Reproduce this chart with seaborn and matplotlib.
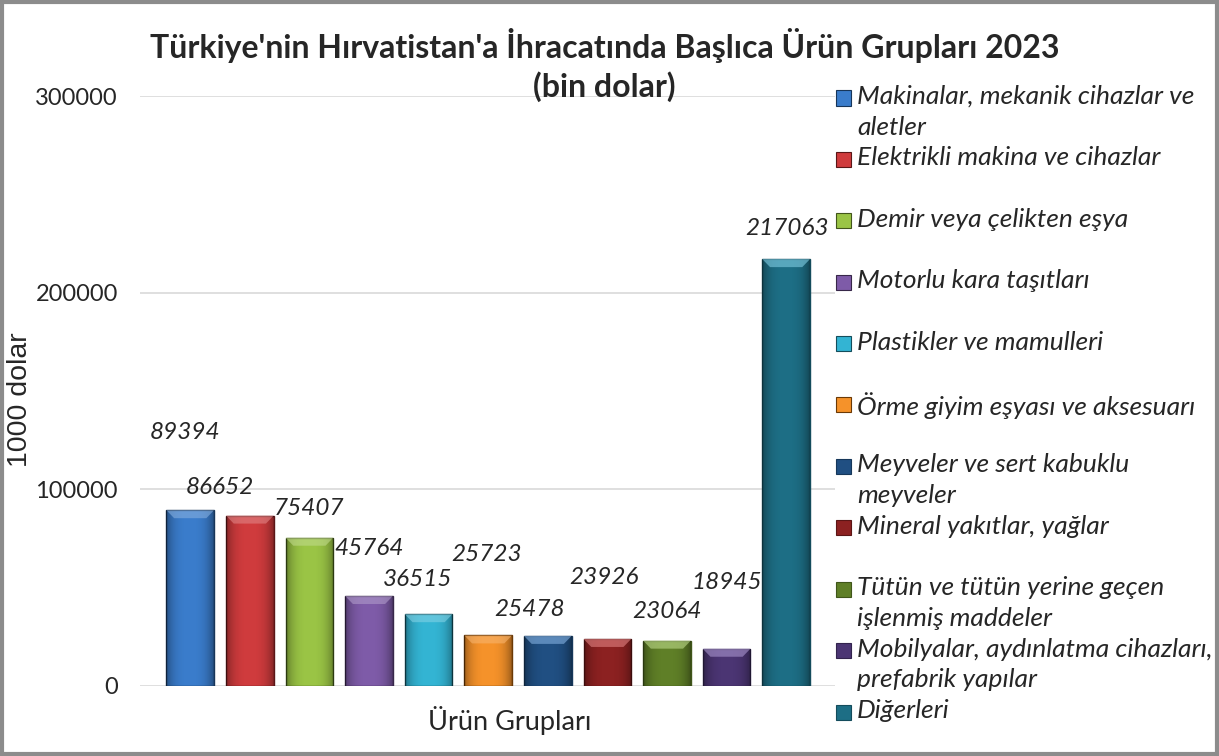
import matplotlib
matplotlib.use("Agg")
import matplotlib.pyplot as plt
import matplotlib.patches as mpatches
import numpy as np
import pandas as pd
import seaborn as sns

categories = [
    "Makinalar, mekanik cihazlar ve\naletler",
    "Elektrikli makina ve cihazlar",
    "Demir veya çelikten eşya",
    "Motorlu kara taşıtları",
    "Plastikler ve mamulleri",
    "Örme giyim eşyası ve aksesuarı",
    "Meyveler ve sert kabuklu\nmeyveler",
    "Mineral yakıtlar, yağlar",
    "Tütün ve tütün yerine geçen\nişlenmiş maddeler",
    "Mobilyalar, aydınlatma cihazları,\nprefabrik yapılar",
    "Diğerleri",
]
values = [89394, 86652, 75407, 45764, 36515, 25723, 25478, 23926, 23064, 18945, 217063]
colors = ["#3A7CCB", "#CF3B3D", "#9AC445", "#7E5BA8", "#33B4D3", "#F5922A",
          "#204F82", "#8C2121", "#5F7F27", "#4B3573", "#1D6E85"]
yticks = [0, 100000, 200000, 300000]

# where Excel dropped the data labels (bar units, data units)
label_dx = [-0.08, -0.5, 0.0, 0.0, -0.18, -0.02, -0.3, -0.05, 0.0, 0.0, 0.02]
label_dy = [39700, 14500, 15100, 24400, 17400, 40900, 13200, 31000, 14600, 33900, 15800]

sns.set_theme(style="white")
FONT = ["Lato", "DejaVu Sans"]
plt.rcParams["font.family"] = FONT

df = pd.DataFrame({"grup": categories, "deger": values})

fig = plt.figure(figsize=(12.19, 7.56), dpi=100)
ax = fig.add_axes([0.115, 0.0926, 0.57, 0.7804])

sns.barplot(data=df, x="grup", y="deger", hue="grup", palette=colors,
            legend=False, ax=ax, width=0.8, saturation=1)

# rough imitation of Excel's bevel: darker sides, light top facet
shade = np.abs(np.linspace(-1, 1, 60)) ** 3
shade = np.tile(shade, (2, 1))
bev_x, bev_y = 0.13, 300000 * 8 / 590
for p, c in zip(list(ax.patches), colors):
    p.set_edgecolor(sns.set_hls_values(c, l=0.22))
    p.set_linewidth(1.0)
    x0, w, h = p.get_x(), p.get_width(), p.get_height()
    im = ax.imshow(shade, extent=[x0, x0 + w, 0, h], aspect="auto",
                   cmap=matplotlib.colors.LinearSegmentedColormap.from_list(
                       "s", [(0, 0, 0, 0), (0, 0, 0, 0.35)]), zorder=p.get_zorder() + 0.1)
    im.set_clip_path(p)
    ax.add_patch(mpatches.Polygon([(x0, h), (x0 + w, h), (x0 + w - bev_x, h - bev_y),
                                   (x0 + bev_x, h - bev_y)], closed=True,
                                  facecolor=sns.set_hls_values(c, l=0.7), alpha=0.6,
                                  edgecolor="none", zorder=p.get_zorder() + 0.2))
ax.set_xlim(-0.84, 10.82)
ax.set_ylim(0, 300000)

ax.set_yticks(yticks)
ax.set_yticklabels([str(t) for t in yticks], fontsize=17)
ax.set_xticks([])
ax.grid(axis="y", color="#D9D9D9", linewidth=1.2)
ax.set_axisbelow(True)
for s in ax.spines.values():
    s.set_visible(False)
ax.tick_params(axis="y", length=0, pad=16)

ax.set_ylabel("1000 dolar", fontsize=20.5, family=["Liberation Sans", "DejaVu Sans"])
ax.yaxis.set_label_coords(-0.154, 0.4856)
ax.set_xlabel("Ürün Grupları", fontsize=19.5)
ax.xaxis.set_label_coords(0.532, -0.034)

for i, v in enumerate(values):
    ax.text(i + label_dx[i], v + label_dy[i], str(v), ha="center", va="center",
            fontsize=17.5, style="italic")

fig.text(0.496, 0.94, "Türkiye'nin Hırvatistan'a İhracatında Başlıca Ürün Grupları 2023",
         ha="center", va="center", fontsize=23, fontweight="bold")
fig.text(0.496, 0.886, "(bin dolar)", ha="center", va="center",
         fontsize=23, fontweight="bold")

# legend, one fixed slot per entry
W, H = 1219, 756
for i, (lab, c) in enumerate(zip(categories, colors)):
    yc = 98 + i * 61.4
    fig.add_artist(mpatches.Rectangle((836 / W, 1 - (yc + 7.5) / H), 15 / W, 15 / H,
                                      transform=fig.transFigure, facecolor=c,
                                      edgecolor=sns.set_hls_values(c, l=0.22), linewidth=0.8))
    fig.text(857 / W, 1 - (yc - 13) / H, lab, ha="left", va="top", fontsize=19,
             style="italic", linespacing=1.4)

fig.add_artist(mpatches.Rectangle((0.002, 0.003), 0.996, 0.994, transform=fig.transFigure,
                                  fill=False, edgecolor="#8C8C8C", linewidth=3))

fig.savefig("out.png", dpi=100)
